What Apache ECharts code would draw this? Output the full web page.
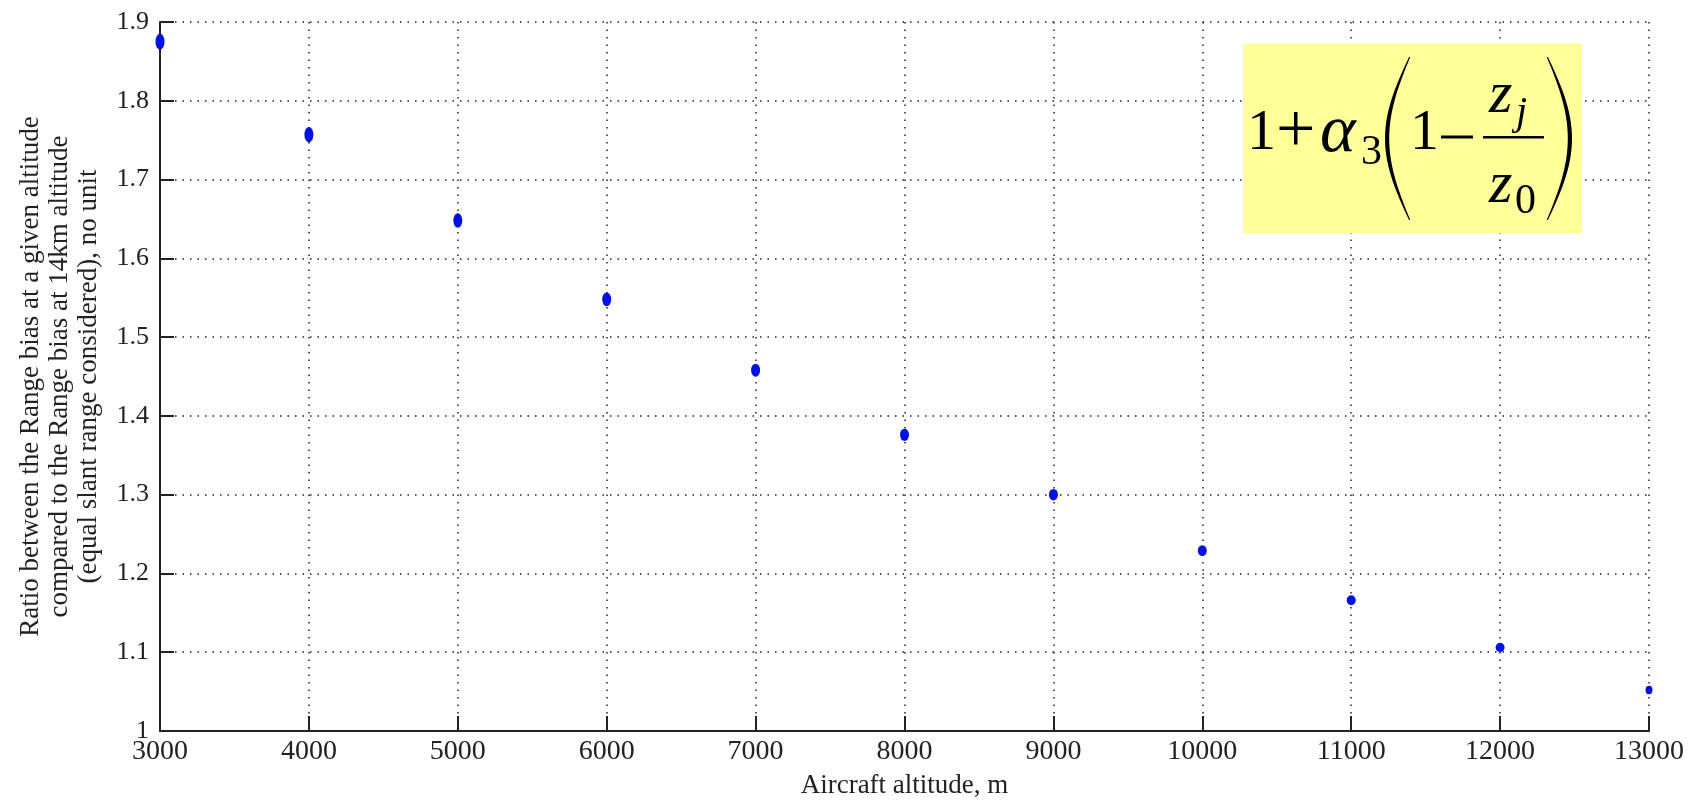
<!DOCTYPE html>
<html>
<head>
<meta charset="utf-8">
<script src="https://cdn.jsdelivr.net/npm/echarts@6/dist/echarts.min.js"></script>
<style>
html,body{margin:0;padding:0;background:#fff;}
#c{width:1693px;height:801px;}
</style>
</head>
<body>
<div id="c"></div>
<script>
// Data
const altitudes = [3000, 4000, 5000, 6000, 7000, 8000, 9000, 10000, 11000, 12000, 13000];
const ratios = [1.875, 1.757, 1.648, 1.548, 1.458, 1.376, 1.300, 1.229, 1.166, 1.106, 1.052];
const xTitle = 'Aircraft altitude, m';
const yTitle = 'Ratio between the Range bias at a given altitude\ncompared to the Range bias at 14km altitude\n(equal slant range considered), no unit';

const chart = echarts.init(document.getElementById('c'), null, {renderer: 'canvas'});
const serif = 'Liberation Serif';
const textColor = '#222';
const dotted = {color: '#222', width: 1.5, type: [1.5, 6]};

function ftext(txt, x, y, size, italic) {
  return {type: 'text', x: x, y: y, z: 11,
    style: {text: txt, fontFamily: serif, fontSize: size, fontStyle: italic ? 'italic' : 'normal',
            fill: '#000', align: 'left', verticalAlign: 'middle'}};
}

// tapered parenthesis outline (dir = -1 for '(' , +1 for ')')
function paren(xEnd, yTop, yBot, bulge, thick, dir) {
  const pts = [];
  const n = 30;
  for (let k = 0; k <= n; k++) {
    const t = k / n;
    const s = Math.sin(Math.PI * t);
    pts.push([xEnd + dir * bulge * s, yTop + (yBot - yTop) * t]);
  }
  for (let k = n; k >= 0; k--) {
    const t = k / n;
    const s = Math.sin(Math.PI * t);
    pts.push([xEnd + dir * (bulge * s - (1.2 + thick * s)), yTop + (yBot - yTop) * t]);
  }
  return pts;
}

const option = {
  animation: false,
  backgroundColor: '#fff',
  grid: {left: 160, right: 44, top: 22, bottom: 70, containLabel: false, outerBoundsMode: 'none'},
  xAxis: {
    type: 'value', min: 3000, max: 13000, interval: 1000,
    name: xTitle, nameLocation: 'middle', nameGap: 41,
    nameTextStyle: {fontFamily: serif, fontSize: 27, color: textColor},
    axisLine: {show: true, lineStyle: {color: '#222', width: 2}},
    axisTick: {show: true, inside: true, length: 15, lineStyle: {color: '#222', width: 2}},
    axisLabel: {fontFamily: serif, fontSize: 28, color: textColor, margin: 7,
                formatter: v => String(v)},
    splitLine: {show: true, lineStyle: dotted}
  },
  yAxis: {
    type: 'value', min: 1, max: 1.9, interval: 0.1,
    name: yTitle, nameLocation: 'middle', nameRotate: 90, nameGap: 57,
    nameTextStyle: {fontFamily: serif, fontSize: 27, lineHeight: 29, color: textColor, align: 'center'},
    axisLine: {show: true, lineStyle: {color: '#222', width: 2}},
    axisTick: {show: true, inside: true, length: 14, lineStyle: {color: '#222', width: 2}},
    axisLabel: {fontFamily: serif, fontSize: 26, color: textColor, margin: 11,
                formatter: v => String(+v.toFixed(1))},
    splitLine: {show: true, lineStyle: dotted}
  },
  series: [{
    type: 'scatter',
    data: altitudes.map((a, i) => [a, ratios[i]]),
    symbol: 'circle',
    symbolSize: function (val, p) {
      const i = p.dataIndex;
      return [i === 10 ? 7 : 9, 16 - i * 0.75];
    },
    itemStyle: {color: '#0010e8', opacity: 1},
    z: 5
  }],
  graphic: [
    {type: 'rect', shape: {x: 1243, y: 44, width: 339, height: 189}, style: {fill: '#ffff99'}, z: 10},
    ftext('1', 1247, 134, 58),
    ftext('+', 1276, 134, 70),
    ftext('α', 1320, 133, 68, true),
    ftext('3', 1361, 153, 42),
    {type: 'polygon', shape: {points: paren(1409, 57, 220, 24, 3, -1)}, style: {fill: '#000'}, z: 11},
    ftext('1', 1410, 134, 58),
    {type: 'rect', shape: {x: 1441, y: 135.5, width: 32, height: 3}, style: {fill: '#000'}, z: 11},
    {type: 'rect', shape: {x: 1483, y: 136, width: 61, height: 2.5}, style: {fill: '#000'}, z: 11},
    ftext('z', 1489, 96, 60, true),
    ftext('j', 1516, 113, 40, true),
    ftext('z', 1489, 186, 60, true),
    ftext('0', 1515, 202, 42),
    {type: 'polygon', shape: {points: paren(1548, 57, 220, 24, 3, 1)}, style: {fill: '#000'}, z: 11}
  ]
};
chart.setOption(option);
</script>
</body>
</html>
